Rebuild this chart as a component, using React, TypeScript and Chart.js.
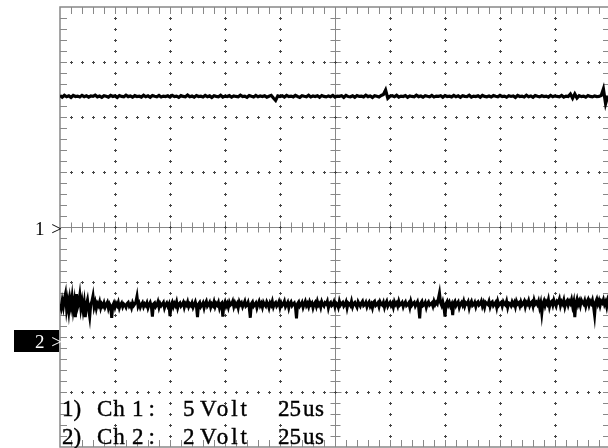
import React, { useEffect, useRef } from "react";
import { Chart, registerables } from "chart.js";

Chart.register(...registerables);

// Oscilloscope settings
const TIME_PER_DIV_US = 25;
const CH1_VOLT_PER_DIV = 5;
const CH2_VOLT_PER_DIV = 2;
const CH1_GROUND_DIV = 0; // ground marker "1 >" at centre line
const CH2_GROUND_DIV = -2; // ground marker "2 >" two divisions below centre
const CH1_SAMPLE_US = 1;
const CH2_SAMPLE_US = 0.5;

const footerLines = [
  ["1)", "Ch", "1:", "5", "Volt", "25", "us"],
  ["2)", "Ch", "2:", "2", "Volt", "25", "us"],
];

// Channel 1 samples (volts)
const ch1_volts = [
  11.95, 11.80, 11.98, 11.84, 11.92, 11.78, 11.96, 11.86, 11.90, 11.82,
  11.97, 11.85, 11.93, 11.80, 11.91, 11.87, 11.99, 11.83, 11.90, 11.79,
  11.94, 11.88, 11.81, 11.96, 11.86, 11.92, 11.78, 11.95, 11.87, 11.83,
  11.98, 11.85, 11.91, 11.80, 11.94, 11.86, 11.89, 11.81, 11.97, 11.84,
  11.92, 11.79, 11.95, 11.88, 11.83, 11.96, 11.82, 11.90, 11.86, 11.93,
  11.81, 11.97, 11.85, 11.90, 11.79, 11.94, 11.87, 11.83, 11.99, 11.84,
  11.91, 11.80, 11.95, 11.86, 11.89, 11.82, 11.96, 11.85, 11.92, 11.78,
  11.93, 11.88, 11.84, 11.97, 11.81, 11.90, 11.86, 11.94, 11.80, 11.92,
  11.87, 11.83, 11.98, 11.85, 11.90, 11.79, 11.95, 11.88, 11.82, 11.96,
  11.84, 11.91, 11.86, 11.93, 11.80, 11.89, 11.97, 11.72, 11.50, 11.92,
  11.86, 11.93, 11.81, 11.96, 11.85, 11.90, 11.83, 11.97, 11.87, 11.79,
  11.94, 11.88, 11.84, 11.98, 11.82, 11.91, 11.86, 11.93, 11.80, 11.95,
  11.87, 11.83, 11.92, 11.85, 11.96, 11.81, 11.90, 11.88, 11.94, 11.79,
  11.97, 11.86, 11.84, 11.92, 11.80, 11.95, 11.87, 11.89, 11.83, 11.98,
  11.85, 11.91, 11.78, 11.94, 11.88, 11.82, 11.96, 12.05, 12.45, 11.70,
  11.88, 11.93, 11.84, 11.97, 11.81, 11.90, 11.86, 11.95, 11.79, 11.92,
  11.87, 11.83, 11.98, 11.85, 11.91, 11.80, 11.94, 11.88, 11.84, 11.96,
  11.82, 11.90, 11.87, 11.93, 11.80, 11.95, 11.86, 11.89, 11.83, 11.97,
  11.84, 11.92, 11.79, 11.94, 11.88, 11.85, 11.98, 11.81, 11.90, 11.86,
  11.93, 11.80, 11.96, 11.87, 11.84, 11.91, 11.82, 11.95, 11.88, 11.83,
  11.97, 11.85, 11.90, 11.80, 11.94, 11.87, 11.92, 11.78, 11.96, 11.86,
  11.89, 11.82, 11.98, 11.84, 11.91, 11.79, 11.95, 11.88, 11.83, 11.93,
  11.86, 11.90, 11.81, 11.96, 11.84, 11.92, 11.87, 11.84, 11.96, 11.81,
  11.90, 11.86, 12.08, 11.70, 12.10, 11.72, 11.94, 11.85, 11.90, 11.80,
  11.95, 11.87, 11.83, 11.92, 11.86, 11.88, 11.95, 12.55, 11.20, 11.90,
];

// Channel 2 samples (volts)
const ch2_volts = [
  1.20, 1.05, 1.32, 1.10, 1.40, 1.58, 1.02, 1.30, 0.95, 1.38, 1.12, 1.45, 1.00, 1.28, 0.72, 1.56, 1.08, 1.22, 1.52, 1.05,
  1.30, 0.98, 1.25, 0.72, 1.18, 1.35, 1.02, 0.74, 1.20, 1.30, 1.50, 1.10, 1.26, 1.04, 1.22, 1.14, 1.28, 1.06, 1.20, 1.12,
  1.24, 1.08, 1.18, 1.26, 1.05, 1.20, 1.12, 0.70, 1.15, 1.24, 1.08, 1.22, 1.14, 1.26, 1.06, 1.18, 1.24, 1.10, 1.20, 1.16,
  1.08, 1.22, 1.26, 1.12, 1.18, 1.06, 1.24, 1.14, 1.20, 1.28, 1.48, 1.12, 1.22, 1.08, 1.18, 1.25, 1.10, 1.20, 1.14, 1.24,
  1.06, 1.18, 1.26, 1.12, 0.74, 1.20, 1.24, 1.10, 1.16, 1.28, 1.08, 1.22, 1.14, 1.20, 1.26, 1.06, 1.18, 1.24, 1.12, 1.20,
  0.76, 1.16, 1.26, 1.10, 1.22, 1.14, 1.28, 1.06, 1.20, 1.24, 1.12, 1.18, 1.26, 1.08, 1.22, 1.16, 1.28, 1.10, 1.20, 1.14,
  1.24, 1.08, 1.18, 1.28, 1.12, 0.72, 1.20, 1.26, 1.10, 1.16, 1.24, 1.06, 1.22, 1.30, 1.12, 1.18, 1.26, 1.08, 1.20, 1.14,
  1.28, 1.10, 1.22, 1.16, 1.26, 1.06, 1.20, 1.24, 0.74, 1.18, 1.28, 1.12, 1.22, 1.08, 1.26, 1.16, 1.20, 1.30, 1.10, 1.24,
  1.14, 1.22, 1.06, 1.28, 1.18, 1.24, 1.10, 1.20, 1.30, 1.12, 1.16, 1.26, 1.08, 0.70, 1.22, 1.28, 1.12, 1.18, 1.24, 1.06,
  1.20, 1.30, 1.14, 1.22, 1.08, 1.26, 1.18, 1.12, 1.28, 1.20, 1.06, 1.24, 1.16, 1.30, 1.10, 1.22, 1.26, 1.12, 1.18, 1.28,
  1.08, 1.24, 1.14, 1.20, 1.30, 1.10, 1.18, 1.26, 1.06, 1.22, 1.28, 1.14, 1.20, 1.24, 1.10, 0.68, 1.22, 1.28, 1.12, 1.18,
  1.26, 1.08, 1.20, 1.30, 1.14, 1.22, 1.10, 1.28, 1.18, 1.24, 1.06, 1.20, 1.26, 1.12, 1.30, 1.16, 1.22, 1.08, 1.28, 1.18,
  1.12, 1.24, 1.20, 1.30, 1.06, 1.22, 1.26, 1.14, 1.18, 1.28, 1.10, 1.24, 1.20, 1.08, 1.30, 1.16, 1.22, 1.26, 1.12, 1.18,
  1.28, 1.06, 1.24, 1.20, 1.14, 1.30, 1.10, 1.22, 1.26, 1.16, 1.08, 1.28, 1.20, 1.12, 1.24, 1.30, 1.14, 1.18, 1.26, 1.10,
  1.22, 1.28, 1.12, 1.20, 1.06, 1.26, 1.30, 1.14, 1.18, 1.24, 1.10, 1.28, 1.20, 1.16, 1.26, 1.08, 1.22, 1.30, 1.12, 1.20,
  1.26, 1.14, 1.22, 1.08, 1.28, 1.18, 1.24, 1.12, 1.30, 1.16, 1.20, 1.26, 1.10, 1.22, 1.28, 1.14, 1.18, 1.24, 1.08, 1.30,
  1.16, 1.22, 1.26, 1.12, 1.20, 1.28, 1.10, 0.68, 1.24, 1.30, 1.14, 1.18, 1.26, 1.08, 1.22, 1.28, 1.16, 1.20, 1.24, 1.12,
  1.30, 1.18, 1.26, 1.20, 1.40, 1.60, 1.24, 1.14, 1.28, 1.10, 0.74, 1.22, 1.30, 1.16, 1.26, 1.12, 1.20, 0.80, 1.24, 1.30,
  1.14, 1.22, 1.28, 1.08, 1.20, 1.26, 1.16, 1.30, 1.12, 1.24, 1.20, 1.28, 1.06, 1.22, 1.30, 1.14, 1.18, 1.26, 1.10, 1.24,
  1.28, 1.16, 1.20, 1.30, 1.12, 1.24, 1.08, 1.26, 1.22, 1.18, 1.30, 1.10, 1.24, 1.28, 1.14, 1.20, 1.26, 1.08, 1.30, 1.16,
  1.22, 1.26, 1.12, 1.28, 1.20, 1.16, 1.30, 1.08, 1.24, 1.22, 1.14, 1.28, 1.18, 1.26, 1.10, 1.30, 1.20, 1.24, 1.12, 1.28,
  1.16, 1.22, 1.30, 1.10, 1.26, 1.20, 1.32, 1.14, 1.24, 1.28, 1.12, 1.34, 1.20, 1.26, 1.18, 1.30, 1.08, 1.24, 0.86, 1.22,
  1.32, 1.14, 1.28, 1.20, 1.36, 1.10, 1.26, 1.30, 1.16, 1.34, 1.22, 1.12, 1.30, 1.26, 1.38, 1.14, 1.28, 1.20, 1.34, 1.10,
  1.26, 1.32, 1.16, 1.30, 1.22, 1.36, 1.12, 1.28, 0.72, 1.24, 1.38, 1.18, 1.30, 1.14, 1.34, 1.26, 1.20, 1.32, 1.12, 1.28,
  1.36, 1.16, 1.30, 1.22, 1.34, 1.12, 0.80, 1.28, 1.38, 1.20, 1.32, 1.14, 1.30, 1.24, 1.36, 1.18, 1.28, 1.10, 1.34, 1.22,
];

const graticulePlugin = {
  id: "graticule",
  beforeDatasetsDraw(chart: any) {
    const { ctx, chartArea } = chart;
    const { left, top, right, bottom } = chartArea;
    const W = right - left;
    const H = bottom - top;
    const dx = W / 10;
    const dy = H / 8;
    const mx = dx / 5;
    const my = dy / 5;
    ctx.save();
    ctx.strokeStyle = "#888888";
    ctx.lineWidth = 1.5;
    ctx.strokeRect(left, top, W, H);
    ctx.lineWidth = 1;
    ctx.beginPath();
    for (let i = 1; i < 50; i++) {
      const x = Math.round(left + i * mx) + 0.5;
      ctx.moveTo(x, top);
      ctx.lineTo(x, top + 7);
      ctx.moveTo(x, bottom);
      ctx.lineTo(x, bottom - 7);
    }
    for (let j = 1; j < 40; j++) {
      const y = Math.round(top + j * my) + 0.5;
      ctx.moveTo(left, y);
      ctx.lineTo(left + 7, y);
      ctx.moveTo(right, y);
      ctx.lineTo(right - 7, y);
    }
    const cx = Math.round(left + 5 * dx) + 0.5;
    const cy = Math.round(top + 4 * dy) + 0.5;
    ctx.moveTo(left, cy);
    ctx.lineTo(right, cy);
    ctx.moveTo(cx, top);
    ctx.lineTo(cx, bottom);
    for (let i = 1; i < 50; i++) {
      const x = Math.round(left + i * mx) + 0.5;
      const t = i % 5 === 0 ? 6 : 5;
      ctx.moveTo(x, cy - t);
      ctx.lineTo(x, cy + t);
    }
    for (let j = 1; j < 40; j++) {
      const y = Math.round(top + j * my) + 0.5;
      const t = j % 5 === 0 ? 6 : 5;
      ctx.moveTo(cx - t, y);
      ctx.lineTo(cx + t, y);
    }
    ctx.stroke();

    ctx.fillStyle = "#444444";
    const plus = (x: number, y: number) => {
      const px = Math.round(x);
      const py = Math.round(y);
      ctx.fillRect(px - 1, py, 3, 1);
      ctx.fillRect(px, py - 1, 1, 3);
    };
    for (let k = 1; k < 8; k++) {
      if (k === 4) continue;
      const y = top + k * dy;
      for (let i = 1; i < 50; i++) plus(left + i * mx, y);
    }
    for (let k = 1; k < 10; k++) {
      if (k === 5) continue;
      const x = left + k * dx;
      for (let j = 1; j < 40; j++) plus(x, top + j * my);
    }
    ctx.restore();
  },
};

const serif = "'Liberation Serif', 'Times New Roman', serif";

// x positions of the footer words and their letter spacing
const footerX = [62, 97, 132, 183, 200, 278, 303];
const footerSpacing = [0, 1, 5, 0, 3, 0, 0.5];

export default function App() {
  const canvasRef = useRef<HTMLCanvasElement | null>(null);

  useEffect(() => {
    document.body.style.margin = "0";
    document.body.style.overflow = "hidden";
    const canvas = canvasRef.current;
    if (!canvas) return;
    const chart = new Chart(canvas, {
      type: "line",
      data: {
        datasets: [
          {
            label: "Ch 1",
            data: ch1_volts.map((v, i) => ({ x: i * CH1_SAMPLE_US, y: v })),
            yAxisID: "y",
            borderColor: "#000",
            borderWidth: 3.2,
            pointRadius: 0,
            tension: 0,
          },
          {
            label: "Ch 2",
            data: ch2_volts.map((v, i) => ({ x: i * CH2_SAMPLE_US, y: v })),
            yAxisID: "y2",
            borderColor: "#000",
            borderWidth: 3,
            pointRadius: 0,
            tension: 0,
          },
        ],
      },
      options: {
        responsive: false,
        animation: false,
        devicePixelRatio: 1,
        layout: { padding: { left: 60, top: 7, right: 10, bottom: 1 } },
        plugins: { legend: { display: false }, tooltip: { enabled: false } },
        scales: {
          x: { type: "linear", display: false, min: 0, max: 10 * TIME_PER_DIV_US },
          y: {
            display: false,
            min: (-4 - CH1_GROUND_DIV) * CH1_VOLT_PER_DIV,
            max: (4 - CH1_GROUND_DIV) * CH1_VOLT_PER_DIV,
          },
          y2: {
            display: false,
            position: "right",
            min: (-4 - CH2_GROUND_DIV) * CH2_VOLT_PER_DIV,
            max: (4 - CH2_GROUND_DIV) * CH2_VOLT_PER_DIV,
          },
        },
      },
      plugins: [graticulePlugin],
    });
    return () => chart.destroy();
  }, []);

  return (
    <div
      style={{
        position: "fixed",
        left: 0,
        top: 0,
        width: 620,
        height: 448,
        overflow: "hidden",
        background: "#fff",
        fontFamily: serif,
      }}
    >
      <canvas ref={canvasRef} width={620} height={448} style={{ display: "block" }} />
      <span
        style={{
          position: "absolute",
          left: 35,
          top: 219,
          fontSize: 19,
          lineHeight: "19px",
          letterSpacing: 1,
          color: "#000",
          whiteSpace: "pre",
        }}
      >
        1 &gt;
      </span>
      <div
        style={{
          position: "absolute",
          left: 14,
          top: 330,
          width: 45,
          height: 22,
          background: "#000",
        }}
      />
      <span
        style={{
          position: "absolute",
          left: 35,
          top: 332,
          fontSize: 19,
          lineHeight: "19px",
          letterSpacing: 1,
          color: "#fff",
          whiteSpace: "pre",
        }}
      >
        2 &gt;
      </span>
      {footerLines.map((words, li) =>
        words.map((w, wi) => (
          <span
            key={`${li}-${wi}`}
            style={{
              position: "absolute",
              left: footerX[wi],
              top: 397 + li * 28,
              fontSize: 23,
              lineHeight: "23px",
              letterSpacing: footerSpacing[wi],
              color: "#000",
              whiteSpace: "pre",
              WebkitTextStroke: "0.4px #000",
            }}
          >
            {w}
          </span>
        ))
      )}
    </div>
  );
}
